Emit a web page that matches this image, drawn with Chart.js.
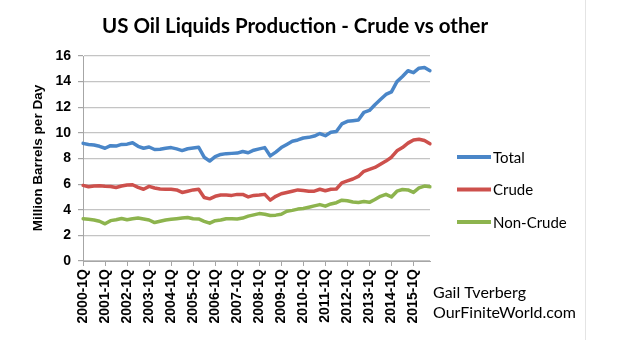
<!DOCTYPE html>
<html>
<head>
<meta charset="utf-8">
<title>US Oil Liquids Production - Crude vs other</title>
<script src="https://cdn.jsdelivr.net/npm/chart.js@4.4.1/dist/chart.umd.min.js"></script>
<style>
  html, body { margin: 0; padding: 0; background: #fff; }
  #wrap { position: relative; width: 640px; height: 340px; }
</style>
</head>
<body>
<div id="wrap"><canvas id="chart" width="640" height="340"></canvas></div>
<script>
// quarterly categories, 2000-1Q .. 2015-4Q
const years = [2000, 2001, 2002, 2003, 2004, 2005, 2006, 2007, 2008, 2009, 2010, 2011, 2012, 2013, 2014, 2015];
const quarters = ["1Q", "2Q", "3Q", "4Q"];
const categories = years.flatMap((y) => quarters.map((q) => `${y}-${q}`));

// million barrels per day
const total = [
  9.18, 9.10, 9.05, 8.95, 8.80, 9.00, 8.97, 9.10,
  9.12, 9.23, 8.95, 8.80, 8.90, 8.70, 8.72, 8.80,
  8.85, 8.75, 8.62, 8.76, 8.82, 8.88, 8.10, 7.80,
  8.15, 8.32, 8.38, 8.40, 8.42, 8.55, 8.45, 8.65,
  8.75, 8.85, 8.20, 8.50, 8.85, 9.10, 9.35, 9.45,
  9.60, 9.65, 9.75, 9.95, 9.78, 10.05, 10.10, 10.70,
  10.90, 10.95, 11.00, 11.60, 11.75, 12.20, 12.60, 13.00,
  13.20, 14.00, 14.40, 14.85, 14.70, 15.05, 15.10, 14.85,
];
const crude = [
  5.90, 5.80, 5.85, 5.87, 5.84, 5.82, 5.74, 5.85,
  5.93, 5.95, 5.75, 5.60, 5.82, 5.70, 5.62, 5.60,
  5.60, 5.55, 5.35, 5.45, 5.55, 5.60, 4.95, 4.85,
  5.05, 5.15, 5.15, 5.12, 5.20, 5.20, 5.00, 5.12,
  5.15, 5.20, 4.75, 5.05, 5.25, 5.35, 5.45, 5.55,
  5.50, 5.45, 5.45, 5.60, 5.48, 5.60, 5.62, 6.10,
  6.25, 6.40, 6.60, 7.00, 7.15, 7.30, 7.55, 7.80,
  8.10, 8.60, 8.85, 9.20, 9.45, 9.50, 9.40, 9.15,
];
const nonCrude = [
  3.30, 3.25, 3.20, 3.10, 2.90, 3.15, 3.22, 3.32,
  3.22, 3.30, 3.35, 3.28, 3.20, 3.00, 3.10, 3.20,
  3.25, 3.30, 3.35, 3.40, 3.30, 3.28, 3.10, 2.95,
  3.15, 3.20, 3.30, 3.30, 3.28, 3.35, 3.50, 3.60,
  3.70, 3.65, 3.55, 3.58, 3.65, 3.88, 3.95, 4.05,
  4.10, 4.20, 4.30, 4.40, 4.28, 4.45, 4.55, 4.75,
  4.70, 4.60, 4.57, 4.65, 4.58, 4.80, 5.05, 5.20,
  5.00, 5.45, 5.58, 5.55, 5.35, 5.70, 5.85, 5.80,
];

const seriesNames = ["Total", "Crude", "Non-Crude"];
const seriesColors = ["#4A86C8", "#CD504C", "#8DB44E"];
const yTicks = [0, 2, 4, 6, 8, 10, 12, 14, 16];

const TITLE = "US Oil Liquids Production - Crude vs other";
const Y_TITLE = "Million Barrels per Day";
const CREDIT = ["Gail Tverberg", "OurFiniteWorld.com"];

const CALIBRI_ISH = "Lato, 'Open Sans', sans-serif";
const ARIAL_ISH = "'Liberation Sans', Arial, sans-serif";

// title, axis title, legend and credit lines drawn straight onto the canvas
const overlay = {
  id: "overlay",
  afterDraw(chart) {
    const c = chart.ctx;
    c.save();
    c.fillStyle = "#000";
    c.textBaseline = "middle";

    c.font = `bold 20.5px ${CALIBRI_ISH}`;
    c.textAlign = "center";
    c.fillText(TITLE, 295, 26);

    c.save();
    c.translate(38, 158);
    c.rotate(-Math.PI / 2);
    c.font = `bold 13.5px ${ARIAL_ISH}`;
    c.fillText(Y_TITLE, 0, 0);
    c.restore();

    // legend
    c.textAlign = "left";
    c.font = `15px ${CALIBRI_ISH}`;
    chart.data.datasets.forEach((ds, i) => {
      const y = 157 + i * 32.5;
      c.strokeStyle = ds.borderColor;
      c.lineWidth = 4;
      c.beginPath();
      c.moveTo(457, y);
      c.lineTo(491, y);
      c.stroke();
      c.fillStyle = "#000";
      c.fillText(ds.label, 493, y + 1);
    });

    c.font = `16px ${CALIBRI_ISH}`;
    c.fillText(CREDIT[0], 433, 293);
    c.fillText(CREDIT[1], 433, 313);

    // faint frame edge on the right
    c.strokeStyle = "#e4e4e4";
    c.lineWidth = 1;
    c.beginPath();
    c.moveTo(585.5, 0);
    c.lineTo(585.5, 340);
    c.stroke();
    c.restore();
  },
};

const values = [total, crude, nonCrude];

new Chart(document.getElementById("chart"), {
  type: "line",
  data: {
    labels: categories,
    datasets: values.map((data, i) => ({
      label: seriesNames[i],
      data,
      borderColor: seriesColors[i],
      backgroundColor: seriesColors[i],
      borderWidth: 3.5,
      pointRadius: 0,
      tension: 0,
      borderJoinStyle: "round",
      borderCapStyle: "round",
    })),
  },
  options: {
    responsive: false,
    animation: false,
    devicePixelRatio: 1,
    layout: { padding: { top: 56, right: 210, left: 0, bottom: 0 } },
    plugins: {
      legend: { display: false },
      title: { display: false },
      tooltip: { enabled: false },
    },
    scales: {
      x: {
        type: "category",
        offset: false,
        grid: {
          drawOnChartArea: false,
          drawTicks: true,
          tickLength: 5,
          color: (ctx) => (ctx.index % 4 === 0 ? "#a6a6a6" : "rgba(0,0,0,0)"),
        },
        border: { color: "#a6a6a6" },
        ticks: {
          autoSkip: false,
          maxRotation: 90,
          minRotation: 90,
          padding: 3,
          color: "#000",
          font: { family: ARIAL_ISH, size: 14, weight: "bold" },
          callback: (v, i) => (i % 4 === 0 ? categories[i] : ""),
        },
        afterFit: (s) => { s.height = 79; },
      },
      y: {
        min: yTicks[0],
        max: yTicks[yTicks.length - 1],
        afterBuildTicks: (s) => { s.ticks = yTicks.map((v) => ({ value: v })); },
        grid: { color: "#c4c4c4", lineWidth: 1.2, tickLength: 5, tickColor: "#a6a6a6" },
        border: { color: "#a6a6a6" },
        ticks: {
          padding: 7,
          color: "#000",
          font: { family: ARIAL_ISH, size: 14, weight: "bold" },
        },
        afterFit: (s) => { s.width = 83; },
      },
    },
  },
  plugins: [overlay],
});
</script>
</body>
</html>
